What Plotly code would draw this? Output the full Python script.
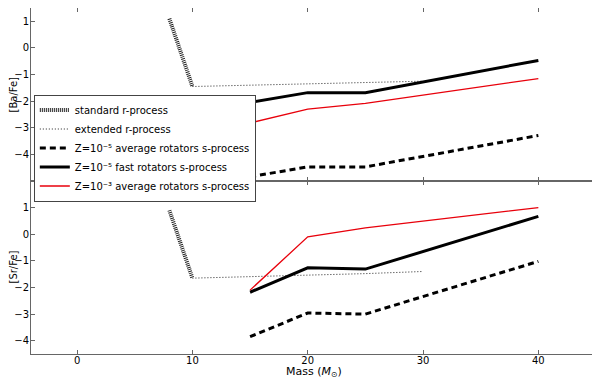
import plotly.graph_objects as go
from plotly.subplots import make_subplots

# masses (Msun)
std_mass = [8, 10]
ext_mass = [10, 20, 25, 30]
s_mass = [15, 20, 25, 40]

# [Ba/Fe]
ba_std = [1.1, -1.45]
ba_ext = [-1.45, -1.36, -1.31, -1.25]
ba_avg_z5 = [-4.84, -4.47, -4.47, -3.29]
ba_fast_z5 = [-2.05, -1.68, -1.68, -0.47]
ba_avg_z3 = [-2.82, -2.3, -2.08, -1.15]

# [Sr/Fe]
sr_std = [0.9, -1.65]
sr_ext = [-1.65, -1.55, -1.48, -1.4]
sr_avg_z5 = [-3.85, -2.96, -3.0, -1.02]
sr_fast_z5 = [-2.18, -1.26, -1.31, 0.67]
sr_avg_z3 = [-2.1, -0.1, 0.24, 1.0]

names = [
    "standard r-process",
    "extended r-process",
    "Z=10⁻⁵ average rotators s-process",
    "Z=10⁻⁵ fast rotators s-process",
    "Z=10⁻³ average rotators s-process",
]

styles = [
    dict(color="#222", width=4, dash="1px,1px"),
    dict(color="#222", width=1, dash="1px,2px"),
    dict(color="black", width=3, dash="6px,4px"),
    dict(color="black", width=3),
    dict(color="#e8000b", width=1.3),
]

fig = make_subplots(rows=2, cols=1, shared_xaxes=True, vertical_spacing=0)

panels = [
    (1, [ba_std, ba_ext, ba_avg_z5, ba_fast_z5, ba_avg_z3]),
    (2, [sr_std, sr_ext, sr_avg_z5, sr_fast_z5, sr_avg_z3]),
]
xs = [std_mass, ext_mass, s_mass, s_mass, s_mass]

for row, series in panels:
    for i, ys in enumerate(series):
        fig.add_trace(
            go.Scatter(
                x=xs[i],
                y=ys,
                mode="lines",
                name=names[i],
                line=styles[i],
                showlegend=(row == 1),
            ),
            row=row,
            col=1,
        )

axis_style = dict(
    showgrid=False,
    zeroline=False,
    showline=True,
    linecolor="#666",
    linewidth=1,
    mirror="ticks",
    ticks="inside",
    ticklen=4,
    tickcolor="#666",
    tickfont=dict(size=10, color="black"),
    automargin=False,
)

fig.update_xaxes(range=[-4, 45], tickvals=[0, 10, 20, 30, 40], **axis_style)
fig.update_xaxes(showticklabels=False, row=1, col=1)
fig.update_xaxes(ticklabelstandoff=-3, row=2, col=1)
fig.update_yaxes(tickvals=[-4, -3, -2, -1, 0, 1], ticklabelstandoff=-1, **axis_style)
fig.update_yaxes(range=[-5, 1.5], row=1, col=1)
fig.update_yaxes(range=[-4.5, 2], row=2, col=1)

# axis titles as annotations so they sit tight against the tick labels
fig.add_annotation(
    text="Mass (<i>M</i><sub>⊙</sub>)",
    xref="paper", yref="paper", x=0.5, y=0,
    yanchor="middle", yshift=-17.5,
    showarrow=False, font=dict(size=11),
)
for yref, label in [("y domain", "[Ba/Fe]"), ("y2 domain", "[Sr/Fe]")]:
    fig.add_annotation(
        text=label,
        xref="paper", yref=yref, x=0, y=0.5,
        xanchor="center", xshift=-18, textangle=-90,
        showarrow=False, font=dict(size=10),
    )

# the page keeps the browser's 8px body margin, so the figure is drawn 8px smaller
fig.update_layout(
    width=592,
    height=370,
    template="plotly_white",
    font=dict(family="DejaVu Sans", size=10, color="black"),
    margin=dict(l=23, r=4, t=0, b=24),
    legend=dict(
        x=0.005,
        y=0.75,
        xanchor="left",
        yanchor="top",
        bgcolor="white",
        bordercolor="#444",
        borderwidth=1,
        font=dict(size=10),
        itemwidth=30,
        tracegroupgap=0,
    ),
)

fig.write_html("out.html")
